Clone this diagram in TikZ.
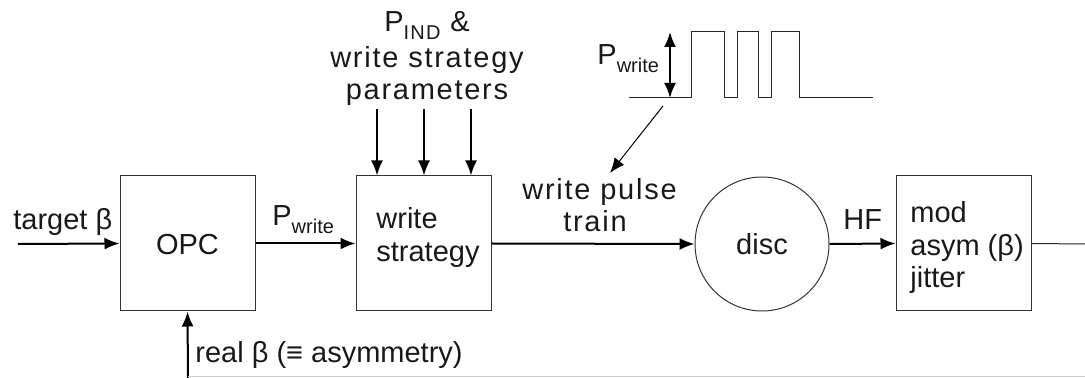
\documentclass[tikz,border=0pt]{standalone}
\usepackage{fontspec}
\setmainfont{Liberation Sans}
\newfontfamily\spaced[LetterSpace=6]{Liberation Sans}
\usetikzlibrary{arrows.meta}
\newcommand{\subtxt}[1]{\raisebox{-0.5ex}{\fontsize{10}{11}\selectfont #1}}
\begin{document}
\begin{tikzpicture}[x=0.5pt,y=-0.5pt,
  every node/.style={font=\fontsize{14.5}{16}\selectfont, text=black!90},
  blk/.style={draw=black!80, line width=0.5pt, minimum width=67.5pt, minimum height=67.5pt, inner sep=0pt},
  arr/.style={line width=1pt, -{Latex[length=7.5pt,width=6pt]}},
  thin/.style={line width=0.5pt, draw=black!85},
  lbl/.style={inner sep=0pt, anchor=base west},
  sp/.style={inner sep=0pt, anchor=base, font=\fontsize{14.5}{16}\spaced}
]
\useasboundingbox (0,0) rectangle (1085,378);
% blocks
\node[blk] (opc) at (187.5,243.5) {};
\node[anchor=base, inner sep=0pt] (opct) at (187.5,255) {OPC};
\node[blk] (ws) at (423.5,243.5) {};
\node[blk, circle, minimum size=67pt] (disc) at (762,244) {};
\node[anchor=base, inner sep=0pt] (disct) at (762,255) {disc};
\node[blk] (meas) at (963.5,243.5) {};
% inputs
\coordinate (tin) at (18,244);
\draw[arr] (tin) -- (opc.west);
\node[lbl] (tlbl) at (13,230) {target β};
\draw[arr] (opc.east) -- (ws.west);
\node[lbl] (pw) at (272,226) {P\subtxt{write}};
\coordinate (fb) at (188,378);
\draw[arr] (fb) -- (opc.south);
\node[lbl] (real) at (195,363) {real β (≡ asymmetry)};
\coordinate (fbend) at (1085,377);
\draw[black!18, line width=0.5pt] (fb |- fbend) -- (fbend);
% write strategy text
\node[lbl] (wst1) at (376,229) {write};
\node[lbl] (wst2) at (376,262) {strategy};
% parameter arrows
\node[sp] (par1) at (427,32) {P\subtxt{IND} \&};
\node[sp] (par2) at (427,68) {write strategy};
\node[sp] (par3) at (427,100) {parameters};
\coordinate (a1) at (377,109);
\coordinate (a2) at (424,109);
\coordinate (a3) at (471,109);
\draw[arr] (a1) -- (a1 |- ws.north);
\draw[arr] (a2) -- (a2 |- ws.north);
\draw[arr] (a3) -- (a3 |- ws.north);
% to disc
\draw[arr] (ws.east) -- (disc.west);
\node[sp, anchor=base west] (wpt1) at (522,200) {write pulse};
\node[sp] (wpt2) at (595,232) {train};
% HF
\draw[arr] (disc.east) -- (meas.west);
\node[lbl] (hf) at (843,230) {HF};
\node[lbl] (m1) at (910,223) {mod};
\node[lbl] (m2) at (910,256) {asym (β)};
\node[lbl] (m3) at (910,288) {jitter};
\coordinate (out) at (1085,244);
\draw[thin] (meas.east) -- (out);
% pulse train
\draw[thin] (629,98) -- (691,98) -- (691,32) -- (724,32) -- (724,98) -- (737,98) -- (737,32) -- (758,32) -- (758,98) -- (771,98) -- (771,32) -- (799,32) -- (799,98) -- (873,98);
\coordinate (pa) at (670,32);
\coordinate (pb) at (670,98);
\draw[line width=1pt, {Latex[length=7.5pt,width=6pt]}-{Latex[length=7.5pt,width=6pt]}] (pa) -- (pb);
\node[lbl] (pw2) at (597,65) {P\subtxt{write}};
\coordinate (ds) at (663,106);
\coordinate (de) at (610,173);
\draw[line width=0.5pt, -{Latex[length=7.5pt,width=6pt]}] (ds) -- (de);
\end{tikzpicture}
\end{document}
